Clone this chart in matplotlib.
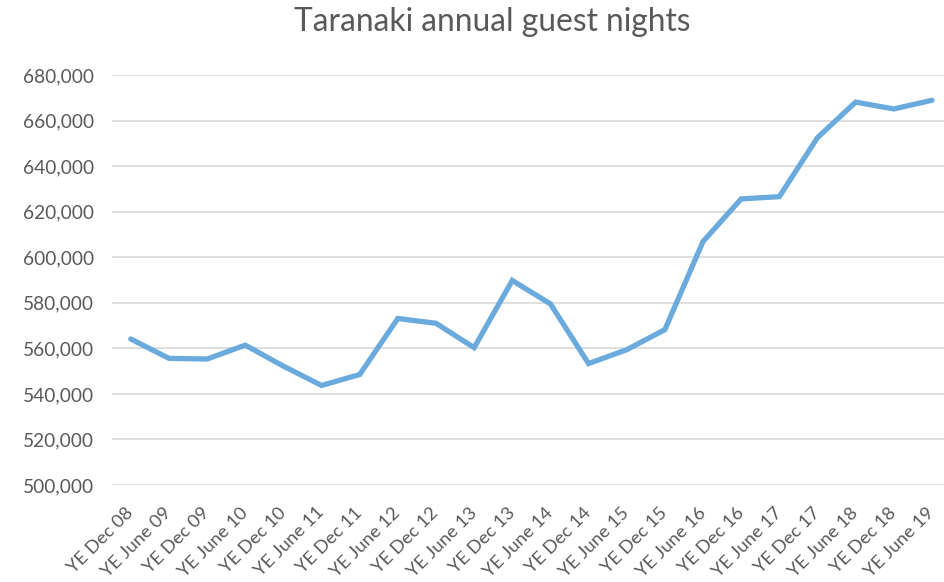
import matplotlib
matplotlib.use("Agg")
import matplotlib.pyplot as plt
from matplotlib.ticker import FuncFormatter

categories = ["YE Dec 08", "YE June 09", "YE Dec 09", "YE June 10", "YE Dec 10",
              "YE June 11", "YE Dec 11", "YE June 12", "YE Dec 12", "YE June 13",
              "YE Dec 13", "YE June 14", "YE Dec 14", "YE June 15", "YE Dec 15",
              "YE June 16", "YE Dec 16", "YE June 17", "YE Dec 17", "YE June 18",
              "YE Dec 18", "YE June 19"]
guest_nights = [564100, 555600, 555300, 561400, 552200, 543700, 548500, 573100,
                571000, 560300, 589800, 579500, 553300, 559400, 568200, 606900,
                625600, 626600, 652500, 668100, 665100, 668900]
y_ticks = [500000, 520000, 540000, 560000, 580000, 600000, 620000, 640000, 660000, 680000]

plt.rcParams['font.family'] = ['Lato', 'DejaVu Sans']
W, H = 944, 582
fig = plt.figure(figsize=(W/100, H/100), dpi=100)
left, right = 111.7, 951.0
top, bottom = 75, 485
ax = fig.add_axes([left/W, (H-bottom)/H, (right-left)/W, (bottom-top)/H])

x = list(range(len(categories)))
ax.plot(x, guest_nights, color='#6AAADD', linewidth=3.8, solid_joinstyle='miter', solid_capstyle='round', zorder=3)

ax.set_xlim(-0.5, len(categories)-0.5)
ax.set_ylim(500000, 680000)
ax.set_yticks(y_ticks)
ax.yaxis.set_major_formatter(FuncFormatter(lambda v, p: f"{int(v):,}"))
ax.set_xticks(x)
ax.set_xticklabels(categories, rotation=45, ha='right', va='center', rotation_mode='anchor')
ax.grid(axis='y', color='#D9D9D9', linewidth=1.2)
ax.set_axisbelow(True)
for s in ax.spines.values():
    s.set_visible(False)
ax.tick_params(axis='y', length=0, colors='#595959', labelsize=13.8, pad=13)
ax.tick_params(axis='x', length=0, colors='#595959', labelsize=13.2, pad=18)

fig.text(492/W, 1-22/H, "Taranaki annual guest nights", ha='center', va='center',
         fontsize=22.9, color='#595959')

fig.savefig("out.png", dpi=100)
